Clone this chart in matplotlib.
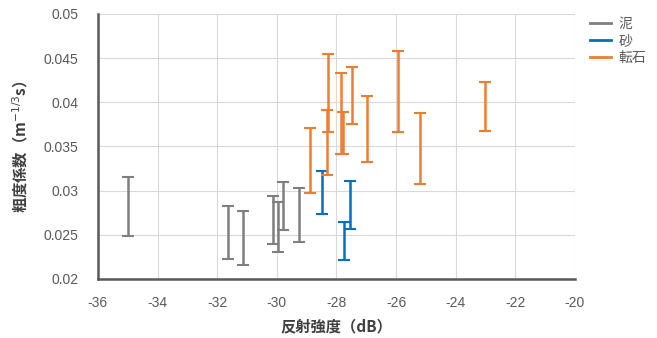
import matplotlib
matplotlib.use('Agg')
import matplotlib.pyplot as plt
from matplotlib.lines import Line2D
import numpy as np

plt.rcParams['font.family'] = ['Liberation Sans', 'Noto Sans CJK JP', 'DejaVu Sans']

# 泥 (mud)
mud_x = [-35.0, -31.63, -31.12, -30.13, -29.95, -29.78, -29.24]
mud_hi = [0.0315, 0.0283, 0.0277, 0.0294, 0.0287, 0.0310, 0.0303]
mud_lo = [0.0249, 0.0223, 0.0216, 0.0240, 0.0231, 0.0255, 0.0242]

# 砂 (sand)
sand_x = [-28.48, -27.74, -27.54]
sand_hi = [0.0322, 0.0265, 0.0311]
sand_lo = [0.0274, 0.0221, 0.0257]

# 転石 (boulder)
rock_x = [-28.90, -28.27, -28.32, -27.86, -27.78, -27.46, -26.97, -25.94, -25.21, -23.0]
rock_hi = [0.0371, 0.0455, 0.0391, 0.0433, 0.0389, 0.0440, 0.0407, 0.0458, 0.0388, 0.0423]
rock_lo = [0.0297, 0.0366, 0.0318, 0.0341, 0.0342, 0.0376, 0.0332, 0.0366, 0.0308, 0.0368]

series = [
    ('泥', mud_x, mud_lo, mud_hi, '#7f7f7f'),
    ('砂', sand_x, sand_lo, sand_hi, '#0070c0'),
    ('転石', rock_x, rock_lo, rock_hi, '#ed7d31'),
]

fig = plt.figure(figsize=(6.57, 3.38), dpi=100)
ax = fig.add_axes([0.149, 0.1746, 0.726, 0.784])

handles = []
for name, xs, lo, hi, col in series:
    lo = np.array(lo)
    hi = np.array(hi)
    mid = (lo + hi) / 2
    half = (hi - lo) / 2
    ax.errorbar(xs, mid, yerr=half, fmt='none', ecolor=col, elinewidth=1.8,
                capsize=4, capthick=1.5, zorder=3)
    handles.append(Line2D([0], [0], color=col, lw=2))

ax.set_xlim(-36, -20)
ax.set_ylim(0.02, 0.05)
ax.set_xticks(np.arange(-36, -19, 2))
ax.set_yticks([0.02, 0.025, 0.03, 0.035, 0.04, 0.045, 0.05])
ax.set_xticklabels([str(v) for v in range(-36, -19, 2)])
ax.set_yticklabels(['0.02', '0.025', '0.03', '0.035', '0.04', '0.045', '0.05'])
ax.grid(True, color='#d9d9d9', lw=0.8)
ax.set_axisbelow(True)

for s in ['top', 'right']:
    ax.spines[s].set_visible(False)
for s in ['left', 'bottom']:
    ax.spines[s].set_color('#595959')
    ax.spines[s].set_linewidth(1.8)

ax.tick_params(axis='y', length=0, labelsize=10, labelcolor='#595959', pad=14)
ax.tick_params(axis='x', length=0, labelsize=10, labelcolor='#595959', pad=12)

ax.set_xlabel('反射強度（dB）', fontsize=11, fontweight='bold', color='#404040',
              labelpad=6, family='Noto Sans CJK JP')
ax.set_ylabel('粗度係数（m$^{-1/3}$s）', fontsize=11, fontweight='bold', color='#404040',
              labelpad=10, family='Noto Sans CJK JP')

leg = ax.legend(handles, ['泥', '砂', '転石'], loc='upper left', bbox_to_anchor=(1.015, 1.02),
                frameon=False, fontsize=10, handlelength=1.5, handletextpad=0.5,
                labelspacing=0.2, borderaxespad=0.2, labelcolor='#595959')

fig.savefig('out.png', dpi=100)
